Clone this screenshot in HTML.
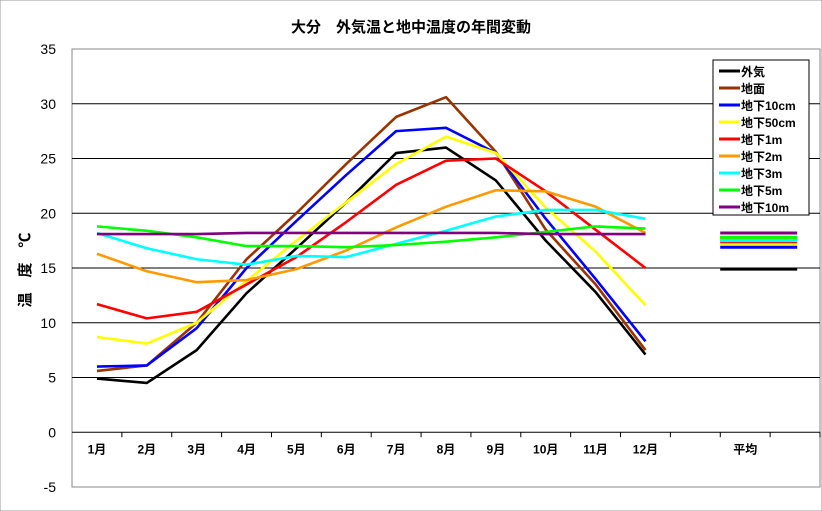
<!DOCTYPE html>
<html><head><meta charset="utf-8"><style>
body{margin:0;background:#fff;}
svg{display:block;font-family:"Liberation Sans","Noto Sans CJK JP",sans-serif;}
</style></head><body>
<svg id="c" width="822" height="511" viewBox="0 0 822 511" xmlns="http://www.w3.org/2000/svg">
<rect x="0" y="0" width="822" height="511" fill="#fff" stroke="#999"/>
<text x="411" y="32" text-anchor="middle" font-size="15" font-weight="bold">大分　外気温と地中温度の年間変動</text>
<g id="grid"></g><g id="series"></g><g id="axes"></g>
<text transform="translate(30,270) rotate(-90)" text-anchor="middle" font-size="15" font-weight="bold">温　度　℃</text>
<g id="legend"></g>
</svg>
<script>
const categories=["1月","2月","3月","4月","5月","6月","7月","8月","9月","10月","11月","12月","","平均",""];
const seriesNames=["外気","地面","地下10cm","地下50cm","地下1m","地下2m","地下3m","地下5m","地下10m"];
const seriesColors=["#000000","#993300","#0000ff","#ffff00","#ff0000","#ff9900","#00ffff","#00ff00","#800080"];
const s0=[4.9,4.5,7.5,12.7,16.8,21.0,25.5,26.0,23.0,17.5,12.8,7.1];
const s1=[5.6,6.1,10.0,15.8,20.0,24.5,28.8,30.6,25.6,18.5,13.5,7.5];
const s2=[6.0,6.1,9.5,15.0,19.3,23.5,27.5,27.8,25.5,19.5,14.0,8.3];
const s3=[8.7,8.1,10.0,13.8,17.5,21.0,24.5,27.0,25.5,20.5,16.5,11.6];
const s4=[11.7,10.4,11.0,13.5,16.0,19.2,22.6,24.8,25.0,22.0,18.5,15.0];
const s5=[16.3,14.7,13.7,13.9,14.9,16.6,18.7,20.6,22.1,22.0,20.6,18.2];
const s6=[18.2,16.8,15.8,15.3,16.1,16.0,17.2,18.4,19.7,20.3,20.3,19.5];
const s7=[18.8,18.4,17.8,17.0,17.0,16.9,17.1,17.4,17.8,18.3,18.8,18.6];
const s8=[18.1,18.1,18.1,18.2,18.2,18.2,18.2,18.2,18.2,18.1,18.1,18.1];
const averages=[14.9,17.8,16.9,17.2,17.4,17.6,17.5,17.8,18.2];
const yTicks=[-5,0,5,10,15,20,25,30,35];
const allSeries=[s0,s1,s2,s3,s4,s5,s6,s7,s8];
const NS="http://www.w3.org/2000/svg";
const L=72,R=820,T=49,B=487,yMin=-5,yMax=35;
const slot=(R-L)/categories.length;
const x=i=>L+(i+0.5)*slot;
const y=v=>B-(v-yMin)/(yMax-yMin)*(B-T);
function mk(tag,attrs,parent){const e=document.createElementNS(NS,tag);for(const k in attrs)e.setAttribute(k,attrs[k]);parent.appendChild(e);return e;}
const grid=document.getElementById('grid'),axes=document.getElementById('axes'),ser=document.getElementById('series'),leg=document.getElementById('legend');
let r=mk('rect',{x:L,y:T,width:R-L,height:B-T,fill:'none',stroke:'#888'},grid);


yTicks.forEach(v=>{
  if(v>yMin&&v<yMax){const g=mk('line',{x1:L,x2:R,y1:y(v),y2:y(v),stroke:'#000','stroke-width':1},grid);
  
  }
  const t=mk('text',{x:56,y:y(v)+5,'text-anchor':'end','font-size':14},axes);t.textContent=v;
  
  
});
categories.forEach((c,i)=>{
  const tk=mk('line',{x1:L+(i+1)*slot,x2:L+(i+1)*slot,y1:y(0),y2:y(0)+5,stroke:'#000'},axes);
  
  
  if(c){const t=mk('text',{x:x(i),y:y(0)+21,'text-anchor':'middle','font-size':12,'font-weight':'bold'},axes);t.textContent=c;
  
  }
});
allSeries.forEach((s,k)=>{
  const p=mk('polyline',{points:s.map((v,i)=>x(i)+','+y(v)).join(' '),fill:'none',stroke:seriesColors[k],'stroke-width':2.6,'stroke-linejoin':'round'},ser);
  
  
});
averages.forEach((v,k)=>{
  const a=mk('line',{x1:x(13)-25,x2:x(13)+52,y1:y(v),y2:y(v),stroke:seriesColors[k],'stroke-width':3},ser);
  
  
});
const lb=mk('rect',{x:713,y:60,width:96,height:155,fill:'#fff',stroke:'#000'},leg);


seriesNames.forEach((n,k)=>{
  const yy=71+k*17;
  const g=mk('g',{},leg);
  
  
  mk('line',{x1:719,x2:740,y1:yy,y2:yy,stroke:seriesColors[k],'stroke-width':3},g);
  const t=mk('text',{x:741,y:yy+5,'font-size':12,'font-weight':'bold'},g);t.textContent=n;
});
</script>
</body></html>
